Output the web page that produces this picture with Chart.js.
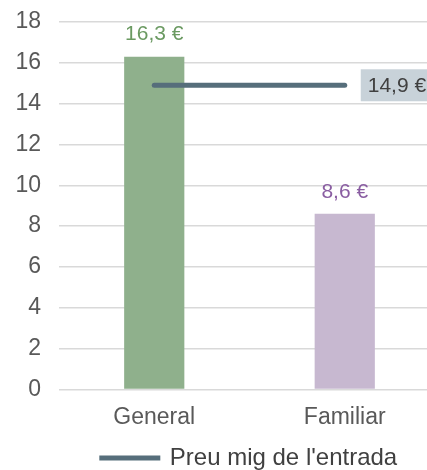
<!DOCTYPE html>
<html>
<head>
<meta charset="utf-8">
<script src="https://cdn.jsdelivr.net/npm/chart.js@4"></script>
<style>
  html, body { margin: 0; padding: 0; background: #fff; overflow: hidden; }
  #wrap { width: 440px; height: 470px; }
</style>
</head>
<body>
<div id="wrap"><canvas id="chart"></canvas></div>
<script>
  // Values
  var categories = ['General', 'Familiar'];
  var preuPerTipus = [16.3, 8.6];
  var preuMig = [14.9, 14.9];
  var legendLabel = "Preu mig de l'entrada";

  var barColors = ['#8fb08c', '#c7b8d0'];
  var labelColors = ['#6b9a62', '#8a5ea2'];
  var lineColor = '#566e7b';
  var FONT = '"Liberation Sans", Arial, sans-serif';

  function euro(v) {
    return v.toFixed(1).replace('.', ',') + ' €';
  }

  // Draws the value labels above the bars and the boxed label at the line end
  var valueLabels = {
    id: 'valueLabels',
    afterDatasetsDraw: function (chart) {
      var ctx = chart.ctx;
      ctx.save();
      ctx.font = '21px ' + FONT;
      ctx.textAlign = 'center';
      ctx.textBaseline = 'middle';
      chart.getDatasetMeta(0).data.forEach(function (bar, i) {
        ctx.fillStyle = labelColors[i];
        ctx.fillText(euro(preuPerTipus[i]), bar.x, bar.y - 22);
      });

      var pts = chart.getDatasetMeta(1).data;
      var last = pts[pts.length - 1];
      var bx = last.x + 16;
      ctx.fillStyle = '#c8d2d9';
      ctx.fillRect(bx, last.y - 16, 90, 32);
      ctx.fillStyle = '#404040';
      ctx.textAlign = 'left';
      ctx.fillText(euro(preuMig[preuMig.length - 1]), bx + 7, last.y + 1);
      ctx.restore();
    }
  };

  new Chart(document.getElementById('chart'), {
    data: {
      labels: categories,
      datasets: [
        {
          type: 'bar',
          label: 'Preu',
          data: preuPerTipus,
          backgroundColor: barColors,
          barPercentage: 0.316,
          categoryPercentage: 1,
          order: 1
        },
        {
          type: 'line',
          label: legendLabel,
          data: preuMig,
          borderColor: lineColor,
          backgroundColor: lineColor,
          borderWidth: 5,
          borderCapStyle: 'round',
          pointRadius: 0,
          fill: false,
          order: 0
        }
      ]
    },
    plugins: [valueLabels],
    options: {
      responsive: true,
      maintainAspectRatio: false,
      animation: false,
      layout: { padding: { top: 22, left: 0, right: 0, bottom: -10 } },
      plugins: {
        tooltip: { enabled: false },
        legend: {
          position: 'bottom',
          fullSize: false,
          labels: {
            filter: function (item) { return item.datasetIndex === 1; },
            boxWidth: 56,
            boxHeight: 0.01,
            padding: 5,
            color: '#404040',
            font: { family: FONT, size: 24 }
          }
        }
      },
      scales: {
        x: {
          grid: { display: false },
          border: { display: false },
          ticks: {
            color: '#595959',
            padding: 6,
            font: { family: FONT, size: 23 }
          },
          afterFit: function (scale) { scale.height += 4; }
        },
        y: {
          min: 0,
          max: 18,
          border: { display: false },
          grid: { color: '#d9d9d9', lineWidth: 1.5, drawTicks: false },
          ticks: {
            stepSize: 2,
            color: '#595959',
            padding: 18,
            font: { family: FONT, size: 23 }
          },
          afterFit: function (scale) {
            scale.width = 59;
            scale.paddingTop = 0;
            scale.paddingBottom = 0;
          }
        }
      }
    }
  });
</script>
</body>
</html>
